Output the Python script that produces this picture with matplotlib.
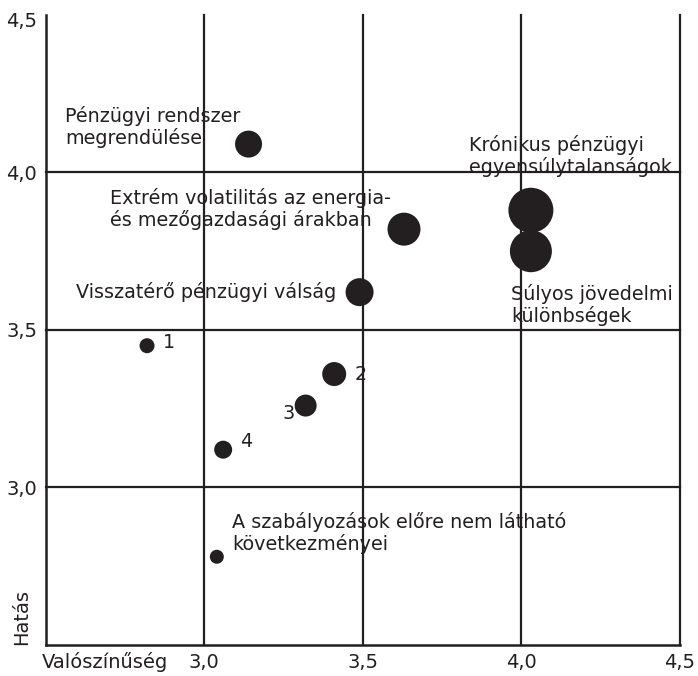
import matplotlib
matplotlib.use("Agg")
import matplotlib.pyplot as plt
import matplotlib.transforms as mtransforms

# risk items: probability (x), impact (y), bubble diameter (relative weight)
labels = [
    "Pénzügyi rendszer\nmegrendülése",
    "Krónikus pénzügyi\negyensúlytalanságok",
    "Súlyos jövedelmi\nkülönbségek",
    "Extrém volatilitás az energia-\nés mezőgazdasági árakban",
    "Visszatérő pénzügyi válság",
    "1",
    "2",
    "3",
    "4",
    "A szabályozások előre nem látható\nkövetkezményei",
]
probability = [3.14, 4.03, 4.03, 3.63, 3.49, 2.82, 3.41, 3.32, 3.06, 3.04]
impact = [4.09, 3.88, 3.75, 3.82, 3.62, 3.45, 3.36, 3.26, 3.12, 2.78]
weight = [27, 45, 42, 33, 28, 15, 24, 22, 18, 14]

tick_values = [3.0, 3.5, 4.0, 4.5]
tick_labels = ["3,0", "3,5", "4,0", "4,5"]
grid_x = [3.0, 3.5, 4.0, 4.5]
grid_y = [3.0, 3.5, 4.0]

# label offsets (points) from each dot, left edge / vertical centre of text block
offsets = [(-132, 12.6), (-44.6, 39), (-14.4, -39), (-211.7, 14.4), (-204.5, 0),
           (11.5, 2.2), (14.4, 0), (-16.6, -5.8), (12.2, 5.8), (10.8, 16.9)]

ink = "#231f20"
plt.rcParams["font.family"] = ["DejaVu Sans"]

fig = plt.figure(figsize=(6.98, 6.76), dpi=100)
ax = fig.add_axes([0.0652, 0.0459, 0.909, 0.932])
ax.set_xlim(2.5, 4.5)
ax.set_ylim(2.5, 4.5)

for v in grid_x:
    ax.axvline(v, color=ink, lw=1.6, clip_on=False, zorder=1)
for v in grid_y:
    ax.axhline(v, color=ink, lw=1.6, clip_on=False, zorder=1)

sizes = [(d * 0.72) ** 2 for d in weight]
ax.scatter(probability, impact, s=sizes, color=ink, edgecolors="none", zorder=3)

for lab, x, y, off in zip(labels, probability, impact, offsets):
    ax.annotate(lab, (x, y), xytext=off, textcoords="offset points",
                ha="left", va="center", fontsize=13.8, color=ink,
                linespacing=1.13, zorder=4)

for side in ["top", "right"]:
    ax.spines[side].set_visible(False)
for side in ["left", "bottom"]:
    ax.spines[side].set_linewidth(1.8)
    ax.spines[side].set_color(ink)

ax.set_xticks(tick_values)
ax.set_xticklabels(tick_labels)
ax.set_yticks(tick_values)
ax.set_yticklabels(tick_labels)
ax.tick_params(length=0, labelsize=14, colors=ink, pad=6)

# top y label sits a little below the end of the axis
top_label = ax.get_yticklabels()[-1]
top_label.set_transform(top_label.get_transform() +
                        mtransforms.ScaledTranslation(0, -3 / 72, fig.dpi_scale_trans))

ax.text(-0.006, -0.027, "Valószínűség", transform=ax.transAxes, ha="left",
        va="center", fontsize=14, color=ink)
ax.text(-0.037, 0.0, "Hatás", transform=ax.transAxes, ha="center",
        va="bottom", rotation=90, fontsize=14, color=ink)

fig.savefig("out.png", dpi=100)
